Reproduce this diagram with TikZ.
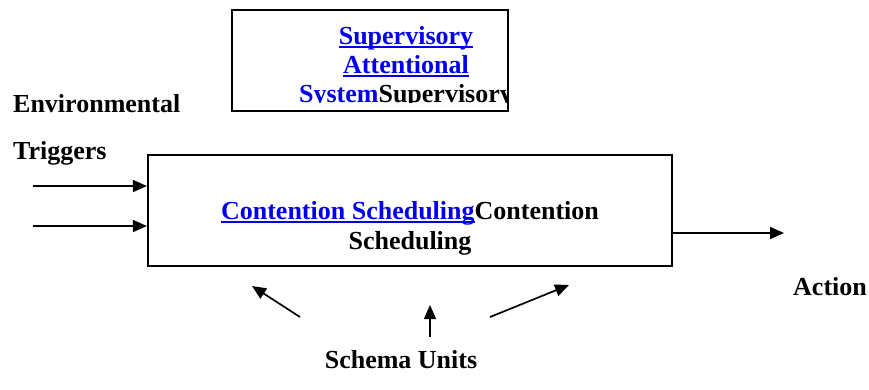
\documentclass[tikz,border=0pt]{standalone}
\usepackage{fontspec}
\setmainfont{Liberation Serif}
\usepackage{xcolor}
\usetikzlibrary{arrows.meta}
\definecolor{linkblue}{RGB}{0,0,238}
\newcommand\linktext[1]{{\color{linkblue}\setbox0\hbox{#1}\rlap{\rule[-3.6pt]{\wd0}{1.8pt}}\box0}}

\begin{document}
\begin{tikzpicture}[x=1pt, y=-1pt,
    every node/.style={font=\fontsize{26}{30}\selectfont\bfseries, inner sep=0pt},
    blockbox/.style={draw, line width=2.2pt, minimum width=#1},
    txt/.style={anchor=base},
    arr/.style={line width=1.7pt, -{Triangle[length=14pt, width=12pt]}}]
    \useasboundingbox (0,0) rectangle (869,389);
    % Boxes
    \node[blockbox=276pt, minimum height=101pt] (sas) at (370,60.5) {};
    \node[blockbox=524pt, minimum height=111pt] (cs) at (410,210.5) {};
    % Text of the top box, cut off by its frame
    \begin{scope}
        \clip (234,12) rectangle (506,102);
        \node[txt] (sas1) at (406,44) {\linktext{Supervisory}};
        \node[txt] (sas2) at (406,73) {\linktext{Attentional}};
        \node[txt] (sas3) at (406,102) {\linktext{System}Supervisory};
    \end{scope}
    % Text of the main box
    \node[txt] (cs1) at (410,219) {\linktext{Contention Scheduling}Contention};
    \node[txt] (cs2) at (410,249) {Scheduling};
    % Labels
    \node[txt, anchor=base west] (env) at (13,112) {Environmental};
    \node[txt, anchor=base west] (trig) at (13,159) {Triggers};
    \node[txt, anchor=base west] (act) at (793,295) {Action};
    \node[txt] (schema) at (401,368) {Schema Units};
    % Arrows
    \coordinate (in1) at (33,186);
    \coordinate (in2) at (33,226);
    \coordinate (out) at (784,233);
    \draw[arr] (in1) -- (in1 -| cs.west);
    \draw[arr] (in2) -- (in2 -| cs.west);
    \draw[arr] (out -| cs.east) -- (out);
    \coordinate (su1) at (300,317);
    \coordinate (su2) at (430,337);
    \coordinate (su3) at (490,317);
    \draw[arr] (su1) -- (252,286);
    \draw[arr] (su2) -- (430,305);
    \draw[arr] (su3) -- (569,285);
\end{tikzpicture}
\end{document}
